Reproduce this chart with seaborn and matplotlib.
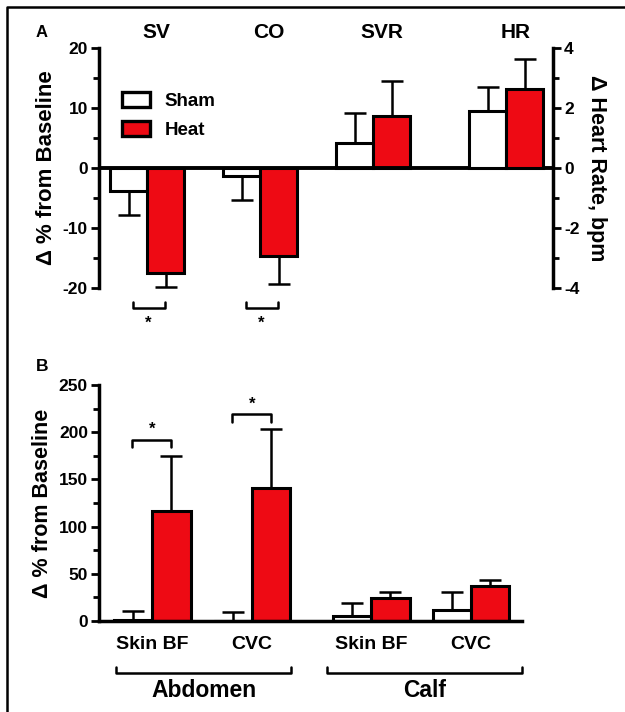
import numpy as np
import pandas as pd
import matplotlib
matplotlib.use("Agg")
import matplotlib.pyplot as plt
import matplotlib.ticker as mticker
from matplotlib.patches import Patch
from matplotlib.lines import Line2D
import seaborn as sns

# ---------------- data ----------------
conditions = ["Sham", "Heat"]

groups_a = ["SV", "CO", "SVR"]
sham_a = [-3.8, -1.3, 4.2]
sham_a_sem = [4.0, 4.0, 5.0]
heat_a = [-17.5, -14.6, 8.7]
heat_a_sem = [2.4, 4.8, 5.8]

group_hr = ["HR"]
sham_hr = [1.9]
sham_hr_sem = [0.8]
heat_hr = [2.62]
heat_hr_sem = [1.0]

cats_b = ["Skin BF", "CVC", "Skin BF", "CVC"]
regions_b = ["Abdomen", "Calf"]
sham_b = [1.0, 0.5, 5.2, 11.4]
sham_b_sem = [9.5, 9.0, 13.8, 19.1]
heat_b = [116.7, 140.9, 24.2, 37.0]
heat_b_sem = [58.2, 62.7, 6.3, 6.3]

# ---------------- layout ----------------
xpos_a = [0, 1, 2]
xpos_hr = [3.18]
xpos_b = [0, 1, 2.19, 3.19]

RED = "#EE0A14"
palette = {"Sham": "white", "Heat": RED}
FONT = "Liberation Sans"

sns.set_theme(style="white")
plt.rcParams["font.family"] = [FONT, "DejaVu Sans"]
plt.rcParams["font.weight"] = "bold"
plt.rcParams["axes.labelweight"] = "bold"
plt.rcParams["axes.unicode_minus"] = False
for key in ["text.color", "axes.labelcolor", "xtick.color", "ytick.color",
            "axes.edgecolor"]:
    plt.rcParams[key] = "black"


def make_df(pos, sham, heat):
    return pd.DataFrame({
        "pos": list(pos) * 2,
        "cond": ["Sham"] * len(pos) + ["Heat"] * len(pos),
        "value": list(sham) + list(heat),
    })


def add_err(ax, containers, vals_list, sem_list):
    for cont, vals, sems in zip(containers, vals_list, sem_list):
        for bar, v, e in zip(cont, vals, sems):
            cx = bar.get_x() + bar.get_width() / 2
            yerr = [[0], [e]] if v >= 0 else [[e], [0]]
            ax.errorbar(cx, v, yerr=yerr, fmt="none", ecolor="black",
                        elinewidth=1.8, capsize=8, capthick=1.8, zorder=1)


def style_ticks(axis_obj, side):
    axis_obj.tick_params(axis="y", which="major", length=6, width=2,
                         labelsize=12.5, direction="out", pad=2,
                         left=(side == "left"), right=(side == "right"),
                         labelleft=(side == "left"), labelright=(side == "right"))
    axis_obj.tick_params(axis="y", which="minor", length=4, width=2,
                         direction="out",
                         left=(side == "left"), right=(side == "right"))
    for lab in axis_obj.get_yticklabels():
        lab.set_fontweight("bold")


fig = plt.figure(figsize=(6.25, 7.12), dpi=100)

# ---------------- Panel A ----------------
axA = fig.add_axes([99 / 625, 1 - 288 / 712, (553 - 99) / 625, 240 / 712])
dfa = make_df(xpos_a, sham_a, heat_a)
sns.barplot(data=dfa, x="pos", y="value", hue="cond", hue_order=conditions,
            palette=palette, saturation=1, native_scale=True, orient="x",
            width=0.655, edgecolor="black", linewidth=2.2, errorbar=None,
            legend=False, ax=axA)
contA = list(axA.containers)
add_err(axA, contA, [sham_a, heat_a], [sham_a_sem, heat_a_sem])

axH = axA.twinx()
dfh = make_df(xpos_hr, sham_hr, heat_hr)
sns.barplot(data=dfh, x="pos", y="value", hue="cond", hue_order=conditions,
            palette=palette, saturation=1, native_scale=True, orient="x",
            width=0.655, edgecolor="black", linewidth=2.2, errorbar=None,
            legend=False, ax=axH)
contH = list(axH.containers)
add_err(axH, contH, [sham_hr, heat_hr], [sham_hr_sem, heat_hr_sem])

axA.set_ylim(-20, 20)
axH.set_ylim(-4, 4)
axA.set_xlim(-0.425, 3.593)
axH.set_xlim(-0.425, 3.593)
axA.set_xticks([])
axH.set_xticks([])
axA.set_xlabel("")
axH.set_xlabel("")
axA.yaxis.set_major_locator(mticker.MultipleLocator(10))
axA.yaxis.set_minor_locator(mticker.MultipleLocator(5))
axH.yaxis.set_major_locator(mticker.MultipleLocator(2))
axH.yaxis.set_minor_locator(mticker.MultipleLocator(1))
for sp in ["top", "right", "bottom"]:
    axA.spines[sp].set_visible(False)
for sp in ["top", "left", "bottom"]:
    axH.spines[sp].set_visible(False)
axA.spines["left"].set_linewidth(2.5)
axH.spines["right"].set_linewidth(2.5)
axA.axhline(0, color="black", lw=2.8, zorder=5)
style_ticks(axA, "left")
style_ticks(axH, "right")
axA.patch.set_visible(False)

axA.set_ylabel("Δ % from Baseline", fontsize=16, fontweight="bold", labelpad=4)
axH.set_ylabel("Δ Heart Rate, bpm", fontsize=15.5, fontweight="bold",
               rotation=270, labelpad=20)

for lab, p in zip(groups_a + group_hr, xpos_a + xpos_hr):
    axA.text(p + 0.08, 22.6, lab, ha="center", va="center", fontsize=15,
             fontweight="bold", clip_on=False)
axA.text(-0.93, 22.6, "A", ha="center", va="center", fontsize=12,
         fontweight="bold", clip_on=False)

# significance brackets (A)
for p in xpos_a[:2]:
    x0, x1 = p - 0.12, p + 0.16
    axA.plot([x0, x0, x1, x1], [-22.3, -23.3, -23.3, -22.3], color="black",
             lw=1.8, clip_on=False)
    axA.text(p + 0.01, -25.9, "*", ha="center", va="center", fontsize=12,
             fontweight="bold", clip_on=False)

handles = [Patch(facecolor=palette[c], edgecolor="black", linewidth=2.4, label=c)
           for c in conditions]
leg = axA.legend(handles=handles, loc="upper left",
                 bbox_to_anchor=(0.05, 0.815), frameon=False, fontsize=13.5,
                 handlelength=1.5, handleheight=0.8, handletextpad=0.8,
                 labelspacing=0.6, borderpad=0, borderaxespad=0)
for t in leg.get_texts():
    t.set_fontweight("bold")

# ---------------- Panel B ----------------
axB = fig.add_axes([99 / 625, 1 - 621 / 712, (522 - 99) / 625, 236 / 712])
dfb = make_df(xpos_b, sham_b, heat_b)
sns.barplot(data=dfb, x="pos", y="value", hue="cond", hue_order=conditions,
            palette=palette, saturation=1, native_scale=True, orient="x",
            width=0.77, edgecolor="black", linewidth=2.2, errorbar=None,
            legend=False, ax=axB)
contB = list(axB.containers)
add_err(axB, contB, [sham_b, heat_b], [sham_b_sem, heat_b_sem])
axB.set_ylim(0, 250)
axB.set_xlim(-0.53, 3.70)
axB.yaxis.set_major_locator(mticker.MultipleLocator(50))
axB.yaxis.set_minor_locator(mticker.MultipleLocator(25))
for sp in ["top", "right"]:
    axB.spines[sp].set_visible(False)
for sp in ["left", "bottom"]:
    axB.spines[sp].set_linewidth(2.5)
style_ticks(axB, "left")
axB.set_xticks(xpos_b)
axB.set_xticklabels(cats_b, fontsize=14, fontweight="bold")
axB.tick_params(axis="x", length=0, pad=11)
axB.set_xlabel("")
axB.set_ylabel("Δ % from Baseline", fontsize=15.5, fontweight="bold", labelpad=4)
axB.text(-1.1, 1.08, "B", transform=axB.get_xaxis_transform(), ha="center",
         va="center", fontsize=12.5, fontweight="bold", clip_on=False)

# region brackets
trB = axB.get_xaxis_transform()
for reg, (i0, i1) in zip(regions_b, [(0, 1), (2, 3)]):
    x0 = xpos_b[i0] - 0.36 if i0 == 0 else xpos_b[i0] - 0.44
    x1 = xpos_b[i1] + 0.39 if i1 == 1 else xpos_b[i1] + 0.51
    axB.plot([x0, x0, x1, x1], [-0.195, -0.22, -0.22, -0.195], color="black",
             lw=1.8, transform=trB, clip_on=False)
    axB.text((x0 + x1) / 2, -0.295, reg, transform=trB, ha="center",
             va="center", fontsize=16.5, fontweight="bold", clip_on=False)

# significance brackets (B)
for p, yb in zip(xpos_b[:2], [192, 219]):
    x0, x1 = p - 0.2, p + 0.19
    axB.plot([x0, x0, x1, x1], [yb - 8, yb, yb, yb - 8], color="black",
             lw=1.8, clip_on=False)
    axB.text(p, yb + 11, "*", ha="center", va="center", fontsize=12,
             fontweight="bold", clip_on=False)

# figure frame (top and left edges)
fig.add_artist(Line2D([7 / 625, 7 / 625, 1.0], [0.0, 1 - 7 / 712, 1 - 7 / 712],
                      transform=fig.transFigure, color="black", lw=1.8))

fig.savefig("out.png", dpi=100)
